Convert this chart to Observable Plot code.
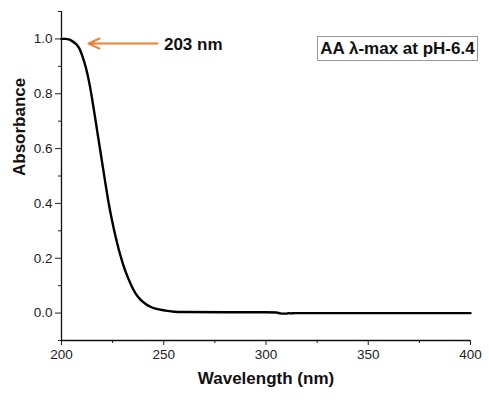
<!DOCTYPE html>
<html>
<head>
<meta charset="utf-8">
<script src="https://cdn.jsdelivr.net/npm/d3@7"></script>
<script src="https://cdn.jsdelivr.net/npm/@observablehq/plot@0.6"></script>
<style>
  html, body { margin: 0; padding: 0; background: #fff; }
  #wrap { position: relative; width: 489px; height: 400px; font-family: "Liberation Sans", Arial, sans-serif; }
  #legend { position: absolute; left: 317px; top: 36px; width: 159px; height: 23px; border: 1px solid #999;
    font-weight: bold; font-size: 17px; line-height: 24px; text-align: center; color: #111; background: #fff; white-space: nowrap; }
</style>
</head>
<body>
<div id="wrap"><div id="legend">AA λ-max at pH-6.4</div></div>
<script>
const wavelength = [200, 202, 203.5, 205, 207, 208.5, 210, 212, 213.4, 215, 216.6, 218, 219.9, 221.5, 223.1, 224.8, 226.4, 228, 229.7, 231.3, 232.9, 234.5, 236.2, 238.5, 241, 243.5, 246, 251, 255, 260, 280, 300, 305, 307, 309, 310, 311, 312, 314, 330, 360, 400];
const absorbance = [1.0, 1.0, 0.998, 0.993, 0.982, 0.968, 0.942, 0.893, 0.847, 0.78, 0.705, 0.638, 0.548, 0.472, 0.4, 0.335, 0.28, 0.232, 0.188, 0.152, 0.122, 0.095, 0.072, 0.05, 0.034, 0.023, 0.016, 0.009, 0.005, 0.004, 0.003, 0.003, 0.002, -0.001, -0.002, -0.002, 0.0, -0.001, 0.0, 0.0, 0.0, 0.0];
const xMajor = [200, 250, 300, 350, 400];
const xMinor = [225, 275, 325, 375];
const yMajor = [0.0, 0.2, 0.4, 0.6, 0.8, 1.0];
const yMinor = [-0.1, 0.1, 0.3, 0.5, 0.7, 0.9, 1.1];
const peakLabel = "203 nm";
const peakArrow = [{x1: 247, x2: 213.2, y: 0.983}];

const data = wavelength.map((w, i) => ({w, a: absorbance[i]}));

const chart = Plot.plot({
  width: 489,
  height: 400,
  marginLeft: 61,
  marginRight: 19,
  marginTop: 11,
  marginBottom: 60,
  style: {fontFamily: "Liberation Sans, Arial, sans-serif", fontSize: "13.5px", color: "#222", background: "transparent"},
  x: {domain: [200, 400]},
  y: {domain: [-0.1, 1.1]},
  marks: [
    Plot.axisX({ticks: xMajor, tickSize: 5, tickPadding: 4, tickFormat: d => String(d), label: null, fontSize: 13.5}),
    Plot.axisX({ticks: xMinor, tickSize: 3, tickFormat: () => "", label: null}),
    Plot.axisY({ticks: yMajor, tickSize: 6, tickPadding: 3, tickFormat: d3.format(".1f"), label: null, fontSize: 13.5}),
    Plot.axisY({ticks: yMinor, tickSize: 3, tickFormat: () => "", label: null}),
    Plot.ruleX([200], {stroke: "#111", strokeWidth: 1.3}),
    Plot.ruleY([-0.1], {stroke: "#111", strokeWidth: 1.3}),
    Plot.line(data, {x: "w", y: "a", stroke: "#000", strokeWidth: 2.4, curve: "monotone-x"}),
    Plot.arrow(peakArrow, {x1: "x1", x2: "x2", y1: "y", y2: "y", stroke: "#F07F2D", strokeWidth: 2, headLength: 9, headAngle: 50}),
    Plot.text([peakLabel], {x: 250.1, y: 0.983, text: d => d, textAnchor: "start", fontWeight: "bold", fontSize: 17, fill: "#111", dy: 1}),
    Plot.text(["Absorbance"], {frameAnchor: "left", rotate: -90, dx: -42, text: d => d, fontWeight: "bold", fontSize: 17, fill: "#111"}),
    Plot.text(["Wavelength (nm)"], {frameAnchor: "bottom", dy: 43, text: d => d, fontWeight: "bold", fontSize: 17, fill: "#111"})
  ]
});
document.getElementById("wrap").prepend(chart);
</script>
</body>
</html>
